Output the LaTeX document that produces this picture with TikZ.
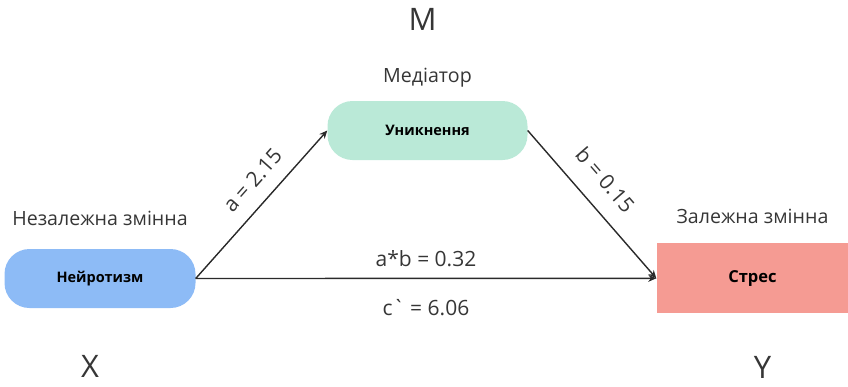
\documentclass[tikz,border=0pt]{standalone}
\usepackage{fontspec}
\setmainfont{Open Sans}[Ligatures=TeXOff]
\usetikzlibrary{positioning}
\usetikzlibrary{arrows.meta}

\definecolor{xblue}{HTML}{8DBBF6}
\definecolor{mgreen}{HTML}{BAE9D7}
\definecolor{yred}{HTML}{F59B93}
\definecolor{txtgray}{HTML}{363636}
\definecolor{linegray}{HTML}{2A2A2A}

\begin{document}
\begin{tikzpicture}[x=1pt, y=-1pt,
        box/.style={minimum height=59pt, inner sep=0pt, font=\fontsize{14.5}{17}\selectfont\bfseries, text=black},
        role/.style={font=\fontsize{19.6}{23}\selectfont, text=txtgray},
        sym/.style={font=\fontsize{31}{36}\selectfont, text=txtgray},
        coef/.style={font=\fontsize{21}{25}\selectfont, text=txtgray},
        conn/.style={-{Stealth[length=8pt, width=7pt]}, line width=1.4pt, draw=linegray}]
            \useasboundingbox (0,0) rectangle (848,386);

            \node[box, fill=xblue, rounded corners=25pt, minimum width=191pt] (x_box) at (100,278.5) {Нейротизм};
            \node[box, fill=mgreen, rounded corners=25pt, minimum width=200pt] (m_box) at (427.5,130.5) {Уникнення};
            \node[box, fill=yred, minimum width=192pt, minimum height=70pt, font=\fontsize{16.5}{19}\selectfont\bfseries] (y_box) at (752.5,278.3) {Стрес};

            \node[role, above = 20pt of x_box] (x_role) {Незалежна змінна};
            \node[role, above = 10pt of m_box] (m_role) {Медіатор};
            \node[role, above = 16pt of y_box] (y_role) {Залежна змінна};

            \node[sym, above = 31pt of m_role, xshift=-5pt] (m_sym) {M};
            \node[sym, below = 44pt of x_box, xshift=-10pt] (x_sym) {X};
            \node[sym, below = 39pt of y_box, xshift=10pt] (y_sym) {Y};

            \draw[conn] (x_box.east) -- node[coef, sloped, above = 11pt, pos=0.56] {a = 2.15} (m_box.west);
            \draw[conn] (m_box.east) -- node[coef, sloped, above = 14pt, pos=0.45] {b = 0.15} (y_box.west);
            \draw[conn] (x_box.east) -- node[coef, above = 8pt] {a*b = 0.32} node[coef, below = 17pt] {c\symbol{96} = 6.06} (y_box.west);
        \end{tikzpicture}
\end{document}
